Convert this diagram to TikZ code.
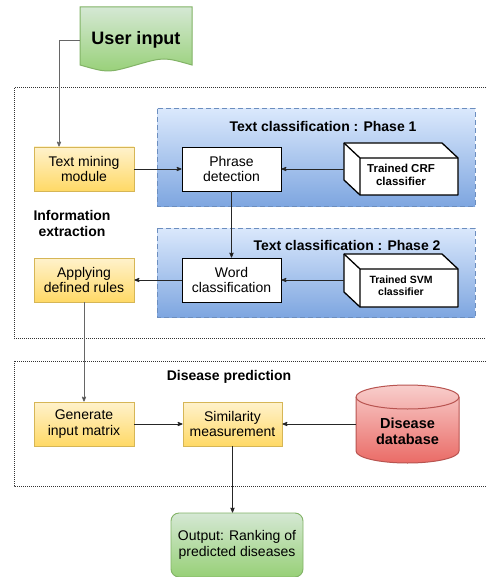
\documentclass[tikz,border=0pt]{standalone}
\usepackage{fontspec}
\setmainfont{Liberation Sans}
\usetikzlibrary{arrows}

\definecolor{ylwtop}{HTML}{FFF2CC}
\definecolor{ylwbot}{HTML}{FFD966}
\definecolor{ylwline}{HTML}{D6B656}
\definecolor{bluetop}{HTML}{DAE8FC}
\definecolor{bluebot}{HTML}{7EA6E0}
\definecolor{blueline}{HTML}{6C8EBF}
\definecolor{redtop}{HTML}{F8CECC}
\definecolor{redbot}{HTML}{EA6B66}
\definecolor{redline}{HTML}{B85450}
\definecolor{grntop}{HTML}{D5E8D4}
\definecolor{grnbot}{HTML}{97D077}
\definecolor{grnline}{HTML}{82B366}

\begin{document}
\begin{tikzpicture}[x=1pt,y=-1pt,>=stealth',
    every node/.style={font=\fontsize{14}{15.5}\selectfont},
    box/.style={shape=rectangle,draw=black,fill=white,minimum width=99pt,minimum height=44pt,align=center,inner sep=1pt,line width=0.9pt},
    rulebox/.style={box,draw=ylwline,top color=ylwtop,bottom color=ylwbot,minimum width=100pt},
    phasebox/.style={draw=blueline,dash pattern=on 5pt off 3pt,line width=1pt,top color=bluetop,bottom color=bluebot},
    stagebox/.style={draw=black!80,dash pattern=on 1pt off 1pt,line width=1pt},
    cubeline/.style={draw=black,line width=1.3pt,line join=round},
    cube/.style={shape=rectangle,minimum width=114pt,align=center,inner sep=1pt,font=\bfseries\fontsize{11.5}{13}\selectfont},
    title/.style={font=\bfseries\fontsize{14}{16}\selectfont,align=center},
    link/.style={->,draw=black!85,line width=0.8pt}]
    \useasboundingbox (0,0) rectangle (485,577);
    \fill[white] (0,0) rectangle (485,577);

    % stages
    \draw[stagebox] (14,88) rectangle (495,338);
    \draw[stagebox] (14,361) rectangle (495,486);
    \draw[phasebox] (157,109) rectangle (475,206);
    \draw[phasebox] (157,228) rectangle (475,317);

    % user input
    \draw[draw=grnline,top color=grntop,bottom color=grnbot,line width=1pt]
        (80,7) -- (192,7) -- (192,65) .. controls (164,57) .. (136,65)
        .. controls (108,73) .. (80,65) -- cycle;
    \node[font=\bfseries\fontsize{18}{20}\selectfont,minimum width=112pt] (input) at (136,40) {User input};

    % classifiers
    \draw[cubeline,fill=white] (344,143) -- (442,143) -- (458,158) -- (458,195) -- (360,195) -- (344,180) -- cycle;
    \draw[cubeline] (344,143) -- (360,158) -- (458,158) (360,158) -- (360,195);
    \node[cube] (crf) at (401,175) {Trained CRF\\classifier};
    \draw[cubeline,fill=white] (344,254) -- (442,254) -- (458,269) -- (458,307) -- (360,307) -- (344,292) -- cycle;
    \draw[cubeline] (344,254) -- (360,269) -- (458,269) (360,269) -- (360,307);
    \node[cube,font=\bfseries\fontsize{10.5}{12}\selectfont] (svm) at (401,286) {Trained SVM\\classifier};

    % database
    \draw[draw=redline,top color=redtop,bottom color=redbot,line width=1pt]
        (356,397) -- (356,451) arc[start angle=180,end angle=360,x radius=51.5pt,y radius=12pt]
        -- (459,397) arc[start angle=0,end angle=180,x radius=51.5pt,y radius=12pt] -- cycle;
    \draw[draw=redline,line width=1pt] (356,397) arc[start angle=180,end angle=360,x radius=51.5pt,y radius=12pt];
    \node[font=\bfseries\fontsize{14.5}{16}\selectfont,minimum width=103pt,align=center] (db) at (407.5,431) {Disease\\database};

    % titles
    \node[title] (phase1) at (323,126) {Text classification : Phase 1};
    \node[title] (phase2) at (347,245) {Text classification : Phase 2};
    \node[title] (extract) at (72,223) {Information\\extraction};
    \node[title] (predict) at (229,377) {Disease prediction};

    % steps
    \node[rulebox] (mining) at (84,169) {Text mining\\module};
    \node[rulebox] (rules) at (84,280) {Applying\\defined rules};
    \node[rulebox] (gen) at (84,424) {Generate\\input matrix};
    \node[rulebox,minimum width=99pt] (sim) at (232.5,424) {Similarity\\measurement};
    \node[box] (phrase) at (231.5,169) {Phrase\\detection};
    \node[box] (word) at (231.5,280) {Word\\classification};
    \node[box,draw=grnline,top color=grntop,bottom color=grnbot,rounded corners=8pt,minimum width=132pt,minimum height=64pt] (out) at (237,545) {Output: Ranking of\\predicted diseases};

    % connectors
    \coordinate (turn) at (59,40);
    \draw[link,draw=black!60] (input.west) -- (turn) -- (turn |- mining.north);
    \path[link] (mining) edge (phrase);
    \draw[link] (crf.west |- phrase.east) -- (phrase.east);
    \path[link] (phrase) edge (word);
    \draw[link] (svm.west |- word.east) -- (word.east);
    \path[link] (word) edge (rules);
    \path[link,draw=black!60] (rules) edge (gen);
    \path[link] (gen) edge (sim);
    \draw[link] (db.west |- sim.east) -- (sim.east);
    \draw[link] (sim.south) -- (sim.south |- out.north);
\end{tikzpicture}
\end{document}
